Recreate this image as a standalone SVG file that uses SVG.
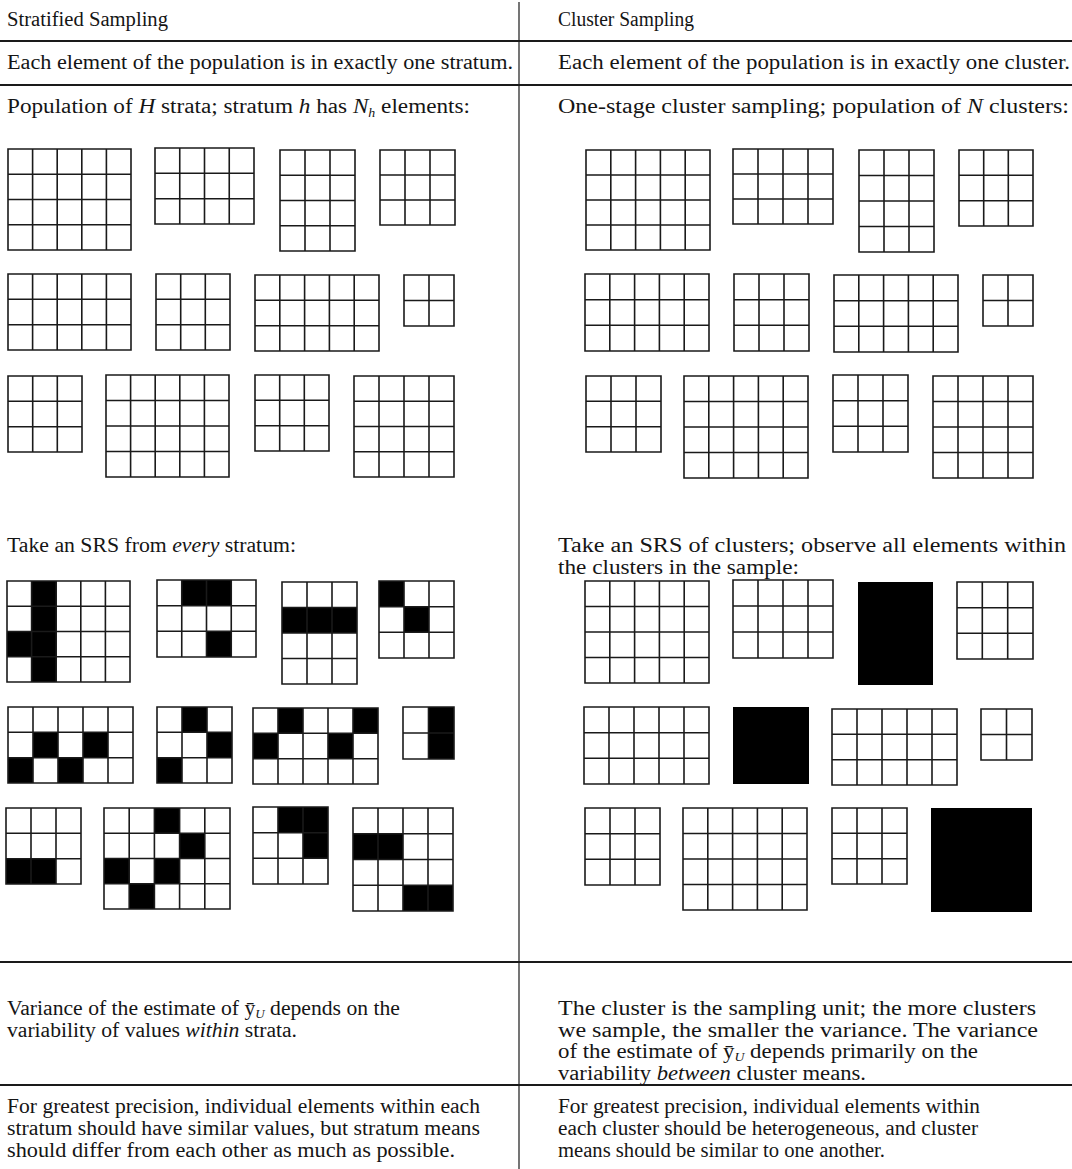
<svg xmlns="http://www.w3.org/2000/svg" width="1072" height="1169" viewBox="0 0 1072 1169">
<style>
.t{font-family:"Liberation Serif","Times New Roman",serif;font-size:20px;fill:#151515}
.i{font-style:italic}
.s{font-size:12px;font-style:italic}
.g{fill:none;stroke:#1a1a1a;stroke-width:1.6}
.b{fill:#000}
.rule{stroke:#1a1a1a;stroke-width:1.8}
.vr{stroke:#1a1a1a;stroke-width:1.2}
</style>
<rect width="1072" height="1169" fill="#fff"/>
<g id="rules">
<line class="vr" x1="519" y1="2" x2="519" y2="1169"/>
<line class="rule" x1="0" y1="41" x2="1072" y2="41"/>
<line class="rule" x1="0" y1="85" x2="1072" y2="85"/>
<line class="rule" x1="0" y1="962" x2="1072" y2="962"/>
<line class="rule" x1="0" y1="1085" x2="1072" y2="1085"/>
</g>
<g id="text-left">
<text class="t" x="7" y="26" textLength="161" lengthAdjust="spacingAndGlyphs">Stratified Sampling</text>
<text class="t" x="7" y="69" textLength="506" lengthAdjust="spacingAndGlyphs">Each element of the population is in exactly one stratum.</text>
<text class="t" x="7" y="113" textLength="463" lengthAdjust="spacingAndGlyphs">Population of <tspan class="i">H</tspan> strata; stratum <tspan class="i">h</tspan> has <tspan class="i">N</tspan><tspan class="s" dy="4">h</tspan><tspan dy="-4"> elements:</tspan></text>
<text class="t" x="7" y="552" textLength="289" lengthAdjust="spacingAndGlyphs">Take an SRS from <tspan class="i">every</tspan> stratum:</text>
<text class="t" x="7" y="1015" textLength="393" lengthAdjust="spacingAndGlyphs">Variance of the estimate of ȳ<tspan class="s" dy="3">U</tspan><tspan dy="-3"> depends on the</tspan></text>
<text class="t" x="7" y="1037" textLength="290" lengthAdjust="spacingAndGlyphs">variability of values <tspan class="i">within</tspan> strata.</text>
<text class="t" x="7" y="1113" textLength="473" lengthAdjust="spacingAndGlyphs">For greatest precision, individual elements within each</text>
<text class="t" x="7" y="1135" textLength="473" lengthAdjust="spacingAndGlyphs">stratum should have similar values, but stratum means</text>
<text class="t" x="7" y="1157" textLength="448" lengthAdjust="spacingAndGlyphs">should differ from each other as much as possible.</text>
</g>
<g id="text-right">
<text class="t" x="558" y="26" textLength="136" lengthAdjust="spacingAndGlyphs">Cluster Sampling</text>
<text class="t" x="558" y="69" textLength="512" lengthAdjust="spacingAndGlyphs">Each element of the population is in exactly one cluster.</text>
<text class="t" x="558" y="113" textLength="511" lengthAdjust="spacingAndGlyphs">One-stage cluster sampling; population of <tspan class="i">N</tspan> clusters:</text>
<text class="t" x="558" y="552" textLength="508" lengthAdjust="spacingAndGlyphs">Take an SRS of clusters; observe all elements within</text>
<text class="t" x="558" y="574" textLength="241" lengthAdjust="spacingAndGlyphs">the clusters in the sample:</text>
<text class="t" x="558" y="1015" textLength="478" lengthAdjust="spacingAndGlyphs">The cluster is the sampling unit; the more clusters</text>
<text class="t" x="558" y="1037" textLength="480" lengthAdjust="spacingAndGlyphs">we sample, the smaller the variance.  The variance</text>
<text class="t" x="558" y="1058" textLength="420" lengthAdjust="spacingAndGlyphs">of the estimate of ȳ<tspan class="s" dy="3">U</tspan><tspan dy="-3"> depends primarily on the</tspan></text>
<text class="t" x="558" y="1080" textLength="308" lengthAdjust="spacingAndGlyphs">variability <tspan class="i">between</tspan> cluster means.</text>
<text class="t" x="558" y="1113" textLength="422" lengthAdjust="spacingAndGlyphs">For greatest precision, individual elements within</text>
<text class="t" x="558" y="1135" textLength="420" lengthAdjust="spacingAndGlyphs">each cluster should be heterogeneous, and cluster</text>
<text class="t" x="558" y="1157" textLength="327" lengthAdjust="spacingAndGlyphs">means should be similar to one another.</text>
</g>
<g id="population-strata">
<path class="g" d="M8 149H131V250H8Z M32.6 149V250 M57.2 149V250 M81.8 149V250 M106.4 149V250 M8 174.25H131 M8 199.5H131 M8 224.75H131"/>
<path class="g" d="M155 148H254V224H155Z M179.75 148V224 M204.5 148V224 M229.25 148V224 M155 173.3H254 M155 198.7H254"/>
<path class="g" d="M280 150H355V251H280Z M305 150V251 M330 150V251 M280 175.25H355 M280 200.5H355 M280 225.75H355"/>
<path class="g" d="M380 150H455V225H380Z M405 150V225 M430 150V225 M380 175H455 M380 200H455"/>
<path class="g" d="M8 274H131V350H8Z M32.6 274V350 M57.2 274V350 M81.8 274V350 M106.4 274V350 M8 299.3H131 M8 324.7H131"/>
<path class="g" d="M156 274H230V350H156Z M180.7 274V350 M205.3 274V350 M156 299.3H230 M156 324.7H230"/>
<path class="g" d="M255 275H379V351H255Z M279.8 275V351 M304.6 275V351 M329.4 275V351 M354.2 275V351 M255 300.3H379 M255 325.7H379"/>
<path class="g" d="M404 275H454V326H404Z M429 275V326 M404 300.5H454"/>
<path class="g" d="M8 376H82V452H8Z M32.7 376V452 M57.3 376V452 M8 401.3H82 M8 426.7H82"/>
<path class="g" d="M106 375H229V477H106Z M130.6 375V477 M155.2 375V477 M179.8 375V477 M204.4 375V477 M106 400.5H229 M106 426H229 M106 451.5H229"/>
<path class="g" d="M255 375H329V451H255Z M279.7 375V451 M304.3 375V451 M255 400.3H329 M255 425.7H329"/>
<path class="g" d="M354 376H454V477H354Z M379 376V477 M404 376V477 M429 376V477 M354 401.25H454 M354 426.5H454 M354 451.75H454"/>
</g>
<g id="population-clusters">
<path class="g" d="M586 150H710V250H586Z M610.8 150V250 M635.6 150V250 M660.4 150V250 M685.2 150V250 M586 175H710 M586 200H710 M586 225H710"/>
<path class="g" d="M733 149H833V224H733Z M758 149V224 M783 149V224 M808 149V224 M733 174H833 M733 199H833"/>
<path class="g" d="M859 150H934V252H859Z M884 150V252 M909 150V252 M859 175.5H934 M859 201H934 M859 226.5H934"/>
<path class="g" d="M959 150H1033V226H959Z M983.7 150V226 M1008.3 150V226 M959 175.3H1033 M959 200.7H1033"/>
<path class="g" d="M585 274H709V351H585Z M609.8 274V351 M634.6 274V351 M659.4 274V351 M684.2 274V351 M585 299.7H709 M585 325.3H709"/>
<path class="g" d="M734 274H809V351H734Z M759 274V351 M784 274V351 M734 299.7H809 M734 325.3H809"/>
<path class="g" d="M834 275H958V352H834Z M858.8 275V352 M883.6 275V352 M908.4 275V352 M933.2 275V352 M834 300.7H958 M834 326.3H958"/>
<path class="g" d="M983 275H1033V326H983Z M1008 275V326 M983 300.5H1033"/>
<path class="g" d="M586 376H661V452H586Z M611 376V452 M636 376V452 M586 401.3H661 M586 426.7H661"/>
<path class="g" d="M684 376H808V478H684Z M708.8 376V478 M733.6 376V478 M758.4 376V478 M783.2 376V478 M684 401.5H808 M684 427H808 M684 452.5H808"/>
<path class="g" d="M833 375H908V452H833Z M858 375V452 M883 375V452 M833 400.7H908 M833 426.3H908"/>
<path class="g" d="M933 376H1033V478H933Z M958 376V478 M983 376V478 M1008 376V478 M933 401.5H1033 M933 427H1033 M933 452.5H1033"/>
</g>
<g id="sample-strata">
<g id="g1"><path class="b" d="M31.6 581H56.2V682H31.6Z M7 631.5H31.6V656.75H7Z"/><path class="g" d="M7 581H130V682H7Z M31.6 581V682 M56.2 581V682 M80.8 581V682 M105.4 581V682 M7 606.25H130 M7 631.5H130 M7 656.75H130"/></g>
<g id="g2"><path class="b" d="M181.75 580H231.25V605.7H181.75Z M206.5 631.3H231.25V657H206.5Z"/><path class="g" d="M157 580H256V657H157Z M181.75 580V657 M206.5 580V657 M231.25 580V657 M157 605.7H256 M157 631.3H256"/></g>
<g id="g3"><path class="b" d="M282 607.5H357V633H282Z"/><path class="g" d="M282 582H357V684H282Z M307 582V684 M332 582V684 M282 607.5H357 M282 633H357 M282 658.5H357"/></g>
<g id="g4"><path class="b" d="M379 581H404V606.7H379Z M404 606.7H429V632.3H404Z"/><path class="g" d="M379 581H454V658H379Z M404 581V658 M429 581V658 M379 606.7H454 M379 632.3H454"/></g>
<g id="h1"><path class="b" d="M33 732.3H58V757.7H33Z M83 732.3H108V757.7H83Z M8 757.7H33V783H8Z M58 757.7H83V783H58Z"/><path class="g" d="M8 707H133V783H8Z M33 707V783 M58 707V783 M83 707V783 M108 707V783 M8 732.3H133 M8 757.7H133"/></g>
<g id="h2"><path class="b" d="M182 707H207V732.3H182Z M207 732.3H232V757.7H207Z M157 757.7H182V783H157Z"/><path class="g" d="M157 707H232V783H157Z M182 707V783 M207 707V783 M157 732.3H232 M157 757.7H232"/></g>
<g id="h3"><path class="b" d="M278 708H303V733.3H278Z M353 708H378V733.3H353Z M253 733.3H278V758.7H253Z M328 733.3H353V758.7H328Z"/><path class="g" d="M253 708H378V784H253Z M278 708V784 M303 708V784 M328 708V784 M353 708V784 M253 733.3H378 M253 758.7H378"/></g>
<g id="h4"><path class="b" d="M428.5 707H454V759H428.5Z"/><path class="g" d="M403 707H454V759H403Z M428.5 707V759 M403 733H454"/></g>
<g id="i1"><path class="b" d="M6 858.7H56V884H6Z"/><path class="g" d="M6 808H81V884H6Z M31 808V884 M56 808V884 M6 833.3H81 M6 858.7H81"/></g>
<g id="i2"><path class="b" d="M154.4 808H179.6V833.25H154.4Z M179.6 833.25H204.8V858.5H179.6Z M104 858.5H129.2V883.75H104Z M154.4 858.5H179.6V883.75H154.4Z M129.2 883.75H154.4V909H129.2Z"/><path class="g" d="M104 808H230V909H104Z M129.2 808V909 M154.4 808V909 M179.6 808V909 M204.8 808V909 M104 833.25H230 M104 858.5H230 M104 883.75H230"/></g>
<g id="i3"><path class="b" d="M278 807H328V832.7H278Z M303 832.7H328V858.3H303Z"/><path class="g" d="M253 807H328V884H253Z M278 807V884 M303 807V884 M253 832.7H328 M253 858.3H328"/></g>
<g id="i4"><path class="b" d="M353 833.75H403V859.5H353Z M403 885.25H453V911H403Z"/><path class="g" d="M353 808H453V911H353Z M378 808V911 M403 808V911 M428 808V911 M353 833.75H453 M353 859.5H453 M353 885.25H453"/></g>
</g>
<g id="sample-clusters">
<path id="j1" class="g" d="M585 581H709V683H585Z M609.8 581V683 M634.6 581V683 M659.4 581V683 M684.2 581V683 M585 606.5H709 M585 632H709 M585 657.5H709"/>
<path id="j2" class="g" d="M733 580H833V658H733Z M758 580V658 M783 580V658 M808 580V658 M733 606H833 M733 632H833"/>
<rect id="j3" class="b" x="858" y="582" width="75" height="103"/>
<path id="j4" class="g" d="M957 582H1033V659H957Z M982.3 582V659 M1007.7 582V659 M957 607.7H1033 M957 633.3H1033"/>
<path id="k1" class="g" d="M584 707H709V784H584Z M609 707V784 M634 707V784 M659 707V784 M684 707V784 M584 732.7H709 M584 758.3H709"/>
<rect id="k2" class="b" x="733" y="707" width="76" height="77"/>
<path id="k3" class="g" d="M832 709H957V785H832Z M857 709V785 M882 709V785 M907 709V785 M932 709V785 M832 734.3H957 M832 759.7H957"/>
<path id="k4" class="g" d="M981 709H1032V760H981Z M1006.5 709V760 M981 734.5H1032"/>
<path id="l1" class="g" d="M585 808H660V885H585Z M610 808V885 M635 808V885 M585 833.7H660 M585 859.3H660"/>
<path id="l2" class="g" d="M683 808H807V910H683Z M707.8 808V910 M732.6 808V910 M757.4 808V910 M782.2 808V910 M683 833.5H807 M683 859H807 M683 884.5H807"/>
<path id="l3" class="g" d="M832 808H907V884H832Z M857 808V884 M882 808V884 M832 833.3H907 M832 858.7H907"/>
<rect id="l4" class="b" x="931" y="808" width="101" height="104"/>
</g>
</svg>
